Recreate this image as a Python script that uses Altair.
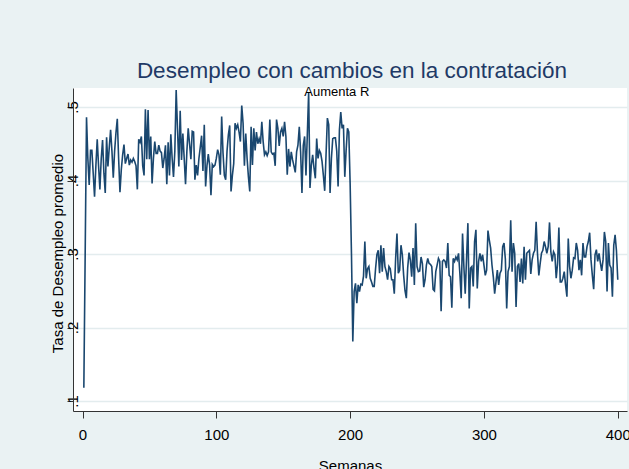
import altair as alt
import pandas as pd

# Average unemployment rate per week (weeks 1..400)
tasa = [
    .118, .300, .486, .430, .394, .441, .441, .410, .378, .420,
    .456, .420, .388, .430, .455, .410, .383, .459, .419, .445,
    .469, .440, .404, .440, .465, .484, .430, .384, .415, .435,
    .449, .423, .430, .436, .421, .428, .425, .430, .426, .420,
    .388, .456, .452, .460, .420, .407, .497, .429, .496, .429,
    .460, .396, .430, .453, .437, .437, .448, .440, .438, .417,
    .430, .448, .395, .452, .407, .463, .430, .405, .440, .523,
    .470, .419, .495, .428, .464, .430, .395, .440, .471, .450,
    .429, .467, .466, .401, .421, .407, .430, .445, .461, .413,
    .476, .392, .420, .436, .421, .380, .422, .419, .421, .430,
    .442, .435, .408, .487, .438, .407, .401, .440, .462, .475,
    .385, .407, .423, .478, .471, .476, .466, .453, .502, .478,
    .420, .464, .430, .405, .385, .473, .421, .471, .441, .466,
    .450, .457, .450, .480, .453, .435, .439, .434, .439, .483,
    .439, .436, .437, .420, .483, .471, .447, .466, .471, .460,
    .480, .460, .408, .443, .419, .439, .428, .420, .411, .439,
    .448, .473, .439, .383, .448, .460, .407, .462, .520, .390,
    .421, .435, .417, .403, .457, .430, .441, .437, .426, .407,
    .386, .435, .485, .476, .383, .430, .457, .458, .458, .440,
    .392, .469, .493, .471, .476, .405, .441, .471, .466, .396,
    .300, .181, .249, .260, .233, .258, .249, .259, .258, .270,
    .317, .267, .280, .283, .267, .262, .256, .256, .280, .299,
    .305, .274, .312, .276, .308, .283, .276, .265, .283, .280,
    .265, .265, .246, .294, .328, .274, .278, .312, .299, .271,
    .250, .240, .281, .302, .292, .269, .308, .258, .342, .283,
    .276, .277, .296, .287, .255, .265, .285, .294, .287, .286,
    .283, .252, .250, .276, .285, .294, .290, .222, .290, .292,
    .290, .281, .315, .271, .269, .227, .294, .290, .296, .292,
    .301, .274, .240, .328, .283, .246, .294, .342, .226, .281,
    .283, .256, .317, .333, .253, .290, .301, .290, .299, .285,
    .271, .278, .332, .319, .308, .285, .269, .246, .262, .278,
    .258, .274, .278, .310, .315, .293, .226, .276, .283, .346,
    .276, .315, .301, .228, .283, .287, .262, .294, .260, .310,
    .265, .301, .303, .305, .273, .292, .301, .305, .344, .301,
    .271, .287, .301, .305, .317, .310, .301, .310, .343, .303,
    .290, .303, .299, .267, .287, .336, .262, .262, .267, .276,
    .258, .242, .321, .283, .267, .278, .295, .294, .315, .305,
    .278, .292, .271, .315, .296, .296, .310, .317, .329, .292,
    .271, .252, .299, .306, .290, .301, .288, .277, .292, .330,
    .317, .249, .315, .285, .281, .242, .312, .326, .305, .265,
]
semanas = list(range(1, len(tasa) + 1))

x_ticks = [0, 100, 200, 300, 400]
y_ticks = [0.1, 0.2, 0.3, 0.4, 0.5]

nota = ["Aumenta R"]
nota_semana = [190]
nota_tasa = [0.521]

FONT = "Liberation Sans"
NAVY = "#1A476F"
BG = "#EAF2F3"

df = pd.DataFrame({"semana": semanas, "tasa": tasa})
df_nota = pd.DataFrame({"semana": nota_semana, "tasa": nota_tasa, "texto": nota})

x_scale = alt.Scale(domain=[-7.1, 406.9], nice=False, zero=False)
y_scale = alt.Scale(domain=[0.0864, 0.5259], nice=False, zero=False)

linea = alt.Chart(df).mark_line(color=NAVY, strokeWidth=1.6).encode(
    x=alt.X(
        "semana:Q",
        scale=x_scale,
        axis=alt.Axis(
            values=x_ticks,
            title="Semanas",
            grid=False,
            domainColor="#333333",
            tickColor="#333333",
            tickSize=7,
            labelFontSize=15,
            labelColor="black",
            labelFont=FONT,
            labelPadding=9,
            titleFont=FONT,
            titleFontSize=15,
            titleFontWeight="normal",
            titleColor="black",
            titlePadding=16,
        ),
    ),
    y=alt.Y(
        "tasa:Q",
        scale=y_scale,
        axis=alt.Axis(
            values=y_ticks,
            labelExpr="substring(format(datum.value, '.1f'), 1)",
            labelAngle=270,
            labelAlign="center",
            labelBaseline="middle",
            labelPadding=-5.5,
            labelFontSize=15,
            labelColor="black",
            labelFont=FONT,
            grid=True,
            gridColor="#E3ECEE",
            gridWidth=1.5,
            domainColor="#333333",
            tickColor="#333333",
            tickSize=6,
            title="Tasa de Desempleo promedio",
            titleFont=FONT,
            titleFontSize=15,
            titleFontWeight="normal",
            titleColor="black",
            titleAngle=270,
            titleAlign="center",
            titleBaseline="alphabetic",
            titleX=-11,
            titleY=165,
        ),
    ),
)

etiqueta = alt.Chart(df_nota).mark_text(
    font=FONT, fontSize=13, color="black", baseline="middle", align="center"
).encode(
    x=alt.X("semana:Q", scale=x_scale),
    y=alt.Y("tasa:Q", scale=y_scale),
    text="texto:N",
)

chart = (
    alt.layer(linea, etiqueta)
    .properties(
        width=554,
        height=323,
        padding={"left": 73, "top": 88, "right": 2, "bottom": 58},
        autosize=alt.AutoSizeParams(type="none"),
        background=BG,
        title=alt.TitleParams(
            "Desempleo con cambios en la contratación",
            font=FONT,
            fontSize=22.5,
            fontWeight="normal",
            color="#1F3A66",
            anchor="middle",
            baseline="alphabetic",
            offset=9,
            dx=2,
            dy=24,
        ),
    )
    .configure_view(fill="white", strokeWidth=0)
)

chart.save("out.html", embed_options={"renderer": "svg", "actions": False})
